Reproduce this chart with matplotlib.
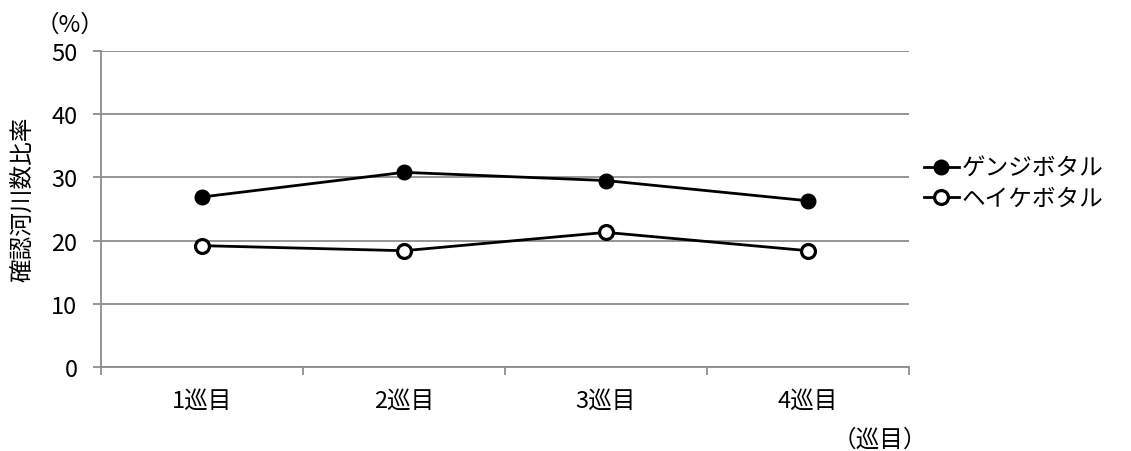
import matplotlib
matplotlib.use("Agg")
import matplotlib.pyplot as plt
import numpy as np

plt.rcParams['font.family'] = ['Noto Sans CJK JP', 'DejaVu Sans']

# 巡回ごとの確認河川数比率 (%)
rounds = ['1巡目', '2巡目', '3巡目', '4巡目']
genji = [26.9, 30.8, 29.5, 26.3]
heike = [19.2, 18.4, 21.3, 18.4]

grid_c = '#8c8c8c'
fs = 17

fig = plt.figure(figsize=(11.31, 4.52), dpi=100)
ax = fig.add_axes([101 / 1131, 1 - 368 / 452, 808 / 1131, 316 / 452])

x = np.arange(len(rounds))
ax.plot(x, genji, color='black', lw=2.0, marker='o', ms=10.5,
        mfc='black', mec='black', label='ゲンジボタル', zorder=3)
ax.plot(x, heike, color='black', lw=2.0, marker='o', ms=10,
        mfc='white', mec='black', mew=2.3, label='ヘイケボタル', zorder=3)

ax.set_xlim(-0.5, len(rounds) - 0.5)
ax.set_ylim(0, 50)
ax.set_yticks(np.arange(0, 51, 10))
ax.yaxis.grid(True, color=grid_c, lw=1.3)
ax.set_axisbelow(True)

# 区切りの目盛りはカテゴリの境界に、ラベルは中央に
ax.set_xticks(x)
ax.set_xticklabels(rounds, fontsize=fs)
ax.set_xticks(np.arange(-0.5, len(rounds)), minor=True)
ax.tick_params(axis='x', which='major', length=0, pad=16)
ax.tick_params(axis='x', which='minor', length=6, width=1.3, color=grid_c, direction='out')
ax.tick_params(axis='y', length=6, width=1.3, color=grid_c, direction='out', pad=11, labelsize=fs)

for s in ['top', 'right']:
    ax.spines[s].set_visible(False)
for s in ['left', 'bottom']:
    ax.spines[s].set_color(grid_c)
    ax.spines[s].set_linewidth(1.3)

fig.text(70 / 1131, 1 - 25 / 452, '（%）', fontsize=fs, ha='center', va='center')
fig.text(24 / 1131, 1 - 199 / 452, '確認河川数比率', fontsize=fs, rotation=90,
         ha='center', va='center')
fig.text(880 / 1131, 1 - 440 / 452, '（巡目）', fontsize=fs, ha='center', va='center')

ax.legend(loc='center left', bbox_to_anchor=(1.018, 0.58), frameon=False,
          fontsize=fs, handlelength=1.5, handletextpad=0.1, labelspacing=0.3,
          borderaxespad=0, borderpad=0)

fig.savefig('out.png', dpi=100)
